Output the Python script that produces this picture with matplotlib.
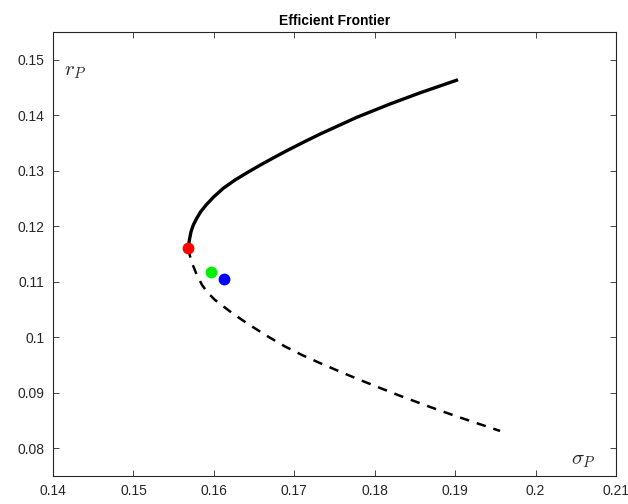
import numpy as np
import matplotlib
matplotlib.use('Agg')
import matplotlib.pyplot as plt

plt.rcParams['font.family'] = ['Liberation Sans', 'DejaVu Sans']
plt.rcParams['mathtext.fontset'] = 'cm'

# frontera eficiente
sig_up = [0.15682, 0.15695, 0.15716, 0.15744, 0.15787, 0.15836, 0.15902, 0.15993, 0.16117,
          0.16263, 0.16408, 0.16574, 0.16739, 0.16906, 0.17108, 0.17320, 0.17780, 0.18190,
          0.18563, 0.19035]
r_up = [0.11603, 0.11752, 0.11902, 0.12022, 0.12143, 0.12262, 0.12381, 0.12522, 0.12684,
        0.12833, 0.12961, 0.13100, 0.13232, 0.13361, 0.13510, 0.13661, 0.13965, 0.14203,
        0.14404, 0.14640]

sig_low = [0.15682, 0.15703, 0.15728, 0.15778, 0.15853, 0.15927, 0.16014, 0.16226, 0.16424,
           0.16661, 0.16885, 0.17108, 0.17345, 0.17593, 0.17817, 0.18066, 0.18289, 0.18538,
           0.18774, 0.19023, 0.19272, 0.19558]
r_low = [0.11603, 0.11464, 0.11338, 0.11158, 0.10941, 0.10797, 0.10671, 0.10437, 0.10239,
         0.10023, 0.09833, 0.09671, 0.09518, 0.09365, 0.09230, 0.09086, 0.08959, 0.08824,
         0.08698, 0.08572, 0.08450, 0.08311]

# portafolios
pts_sig = [0.1568, 0.1596, 0.1613]
pts_r = [0.1161, 0.1118, 0.1105]
pts_col = ['#ff0000', '#00ee00', '#0000ff']

fig = plt.figure(figsize=(6.28, 5.04), dpi=100)
ax = fig.add_axes([0.0844, 0.0556, 0.8966, 0.8809])

ax.plot(sig_up, r_up, color='black', lw=2.4, solid_capstyle='butt', solid_joinstyle='round')
ax.plot(sig_low, r_low, color='black', lw=1.8, dashes=(3.8, 3.2))
for s, r, c in zip(pts_sig, pts_r, pts_col):
    ax.plot(s, r, 'o', color=c, markersize=7.5, zorder=3)

ax.set_xlim(0.14, 0.21)
ax.set_ylim(0.075, 0.155)
ax.set_xticks(np.arange(0.14, 0.2101, 0.01))
ax.set_xticklabels(['0.14', '0.15', '0.16', '0.17', '0.18', '0.19', '0.2', '0.21'])
ax.set_yticks(np.arange(0.08, 0.1501, 0.01))
ax.set_yticklabels(['0.08', '0.09', '0.1', '0.11', '0.12', '0.13', '0.14', '0.15'])

gris = '#262626'
ax.tick_params(direction='in', top=True, right=True, length=4, width=0.6,
               colors=gris, labelsize=10, pad=6)
for sp in ax.spines.values():
    sp.set_color(gris)
    sp.set_linewidth(0.8)

ax.set_title('Efficient Frontier', fontsize=10, fontweight='bold', pad=5)
ax.text(0.02, 0.903, r'$r_P$', transform=ax.transAxes, fontsize=15, color=gris)
ax.text(0.92, 0.025, r'$\sigma_P$', transform=ax.transAxes, fontsize=15, color=gris)

fig.savefig('out.png', dpi=100)
